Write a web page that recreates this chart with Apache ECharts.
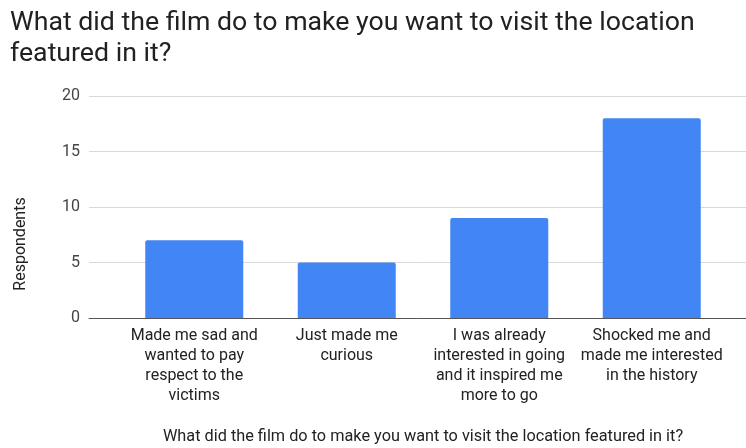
<!DOCTYPE html>
<html>
<head>
<meta charset="utf-8">
<script src="https://cdn.jsdelivr.net/npm/echarts@6/dist/echarts.min.js"></script>
<style>
  html, body { margin: 0; padding: 0; background: #fff; }
  #chart { width: 746px; height: 448px; }
</style>
</head>
<body>
<div id="chart"></div>
<script>
// Survey answers (x-axis categories, pre-wrapped) and respondent counts
const categories = [
  'Made me sad and\nwanted to pay\nrespect to the\nvictims',
  'Just made me\ncurious',
  'I was already\ninterested in going\nand it inspired me\nmore to go',
  'Shocked me and\nmade me interested\nin the history'
];
const respondents = [7, 5, 9, 18];
const yTicks = [0, 5, 10, 15, 20];

const chartTitle = 'What did the film do to make you want to visit the location\nfeatured in it?';
const xAxisTitle = 'What did the film do to make you want to visit the location featured in it?';
const yAxisTitle = 'Respondents';

const chart = echarts.init(document.getElementById('chart'), null, { renderer: 'canvas' });

const yMin = yTicks[0];
const yMax = yTicks[yTicks.length - 1];
const yStep = yTicks[1] - yTicks[0];

chart.setOption({
  animation: false,
  title: {
    text: chartTitle,
    left: 5,
    top: 3,
    textStyle: {
      fontFamily: 'Roboto',
      fontWeight: 'normal',
      fontSize: 26.7,
      lineHeight: 31,
      color: '#212121'
    }
  },
  // vertical axis title, set a little below the plot's middle
  graphic: [
    {
      type: 'text',
      x: 21,
      y: 244,
      rotation: Math.PI / 2,
      style: {
        text: yAxisTitle,
        fontFamily: 'Roboto',
        fontSize: 16,
        fill: '#222',
        textAlign: 'center',
        textVerticalAlign: 'middle'
      }
    }
  ],
  grid: [
    // full-width grid carrying gridlines, baseline and value labels
    { left: 89, right: 0, top: 96, bottom: 130 },
    // inner grid where the category bands sit
    { left: 118, right: 18, top: 96, bottom: 130 }
  ],
  xAxis: [
    {
      gridIndex: 0,
      type: 'value',
      min: 0,
      max: 1,
      axisLine: { show: true, onZero: false, lineStyle: { color: '#555', width: 1 } },
      axisTick: { show: false },
      axisLabel: { show: false },
      splitLine: { show: false }
    },
    {
      gridIndex: 1,
      type: 'category',
      data: categories,
      axisLine: { show: false },
      axisTick: { show: false },
      axisLabel: {
        interval: 0,
        margin: 8,
        fontFamily: 'Roboto',
        fontSize: 16,
        lineHeight: 20,
        color: '#222',
        align: 'center'
      },
      name: xAxisTitle,
      nameLocation: 'middle',
      nameGap: 111,
      nameTextStyle: {
        fontFamily: 'Roboto',
        fontSize: 16.3,
        color: '#222'
      }
    }
  ],
  yAxis: [
    {
      gridIndex: 0,
      type: 'value',
      min: yMin,
      max: yMax,
      interval: yStep,
      axisLine: { show: false },
      axisTick: { show: false },
      axisLabel: {
        margin: 9,
        fontFamily: 'Roboto',
        fontSize: 16,
        color: '#444'
      },
      splitLine: { show: true, lineStyle: { color: '#d9d9d9', width: 1 } }
    },
    {
      gridIndex: 1,
      type: 'value',
      min: yMin,
      max: yMax,
      interval: yStep,
      show: false,
      splitLine: { show: false }
    }
  ],
  series: [
    {
      type: 'bar',
      xAxisIndex: 1,
      yAxisIndex: 1,
      data: respondents,
      barWidth: 98,
      itemStyle: { color: '#4285F4', borderRadius: [2, 2, 0, 0] }
    }
  ]
});
</script>
</body>
</html>
